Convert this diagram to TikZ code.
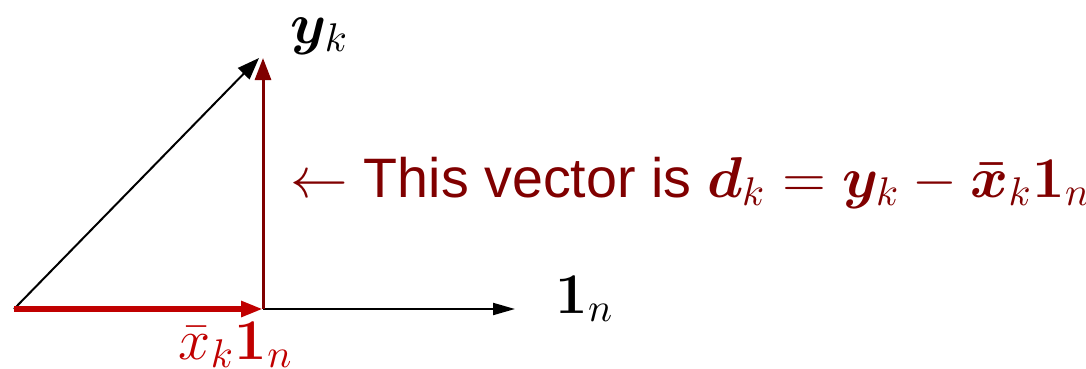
\documentclass[tikz,border=0pt]{standalone}
\usepackage{amsmath}
\usepackage[no-math]{fontspec}
\usepackage{bm}
\setmainfont{Liberation Sans}
\usetikzlibrary{arrows.meta}
\definecolor{myred}{RGB}{192,0,0}
\definecolor{dred}{RGB}{128,0,0}
\begin{document}
\begin{tikzpicture}[x=0.25pt,y=-0.25pt,scale=4,
  every node/.append style={transform shape},
  lbl/.style={inner sep=0pt, anchor=base west},
  big/.style={font=\fontsize{14}{16}\selectfont}]
\useasboundingbox (0,0) rectangle (1086,368);
\coordinate (O) at (14,309);
\coordinate (P) at (263,309);
\coordinate (Y) at (263,58);
\coordinate (E) at (515,309);
\draw[line width=2pt, -{Triangle[length=22pt,width=12pt]}] (P) -- (E);
\draw[line width=2pt, -{Triangle[length=22pt,width=16pt]}] (O) -- ([xshift=-1pt]Y);
\draw[dred, line width=3pt, -{Triangle[length=22pt,width=16pt]}] (P) -- (Y);
\draw[myred, line width=6pt, -{Triangle[length=22pt,width=15pt]}] (O) -- (P);
\node[lbl, big] (yk) at (290,43) {$\bm{y}_k$};
\node[lbl, big, text=dred] (t) at (290,197) {$\leftarrow$ {\fontsize{13.9}{16}\selectfont This vector is} $\bm{d}_k=\bm{y}_k-\bm{\bar{x}}_k\mathbf{1}_n$};
\node[lbl, big, text=myred] (xb) at (178,359) {$\bar{x}_k\mathbf{1}_n$};
\node[lbl, big] (one) at (555,313) {$\mathbf{1}_n$};
\end{tikzpicture}
\end{document}
